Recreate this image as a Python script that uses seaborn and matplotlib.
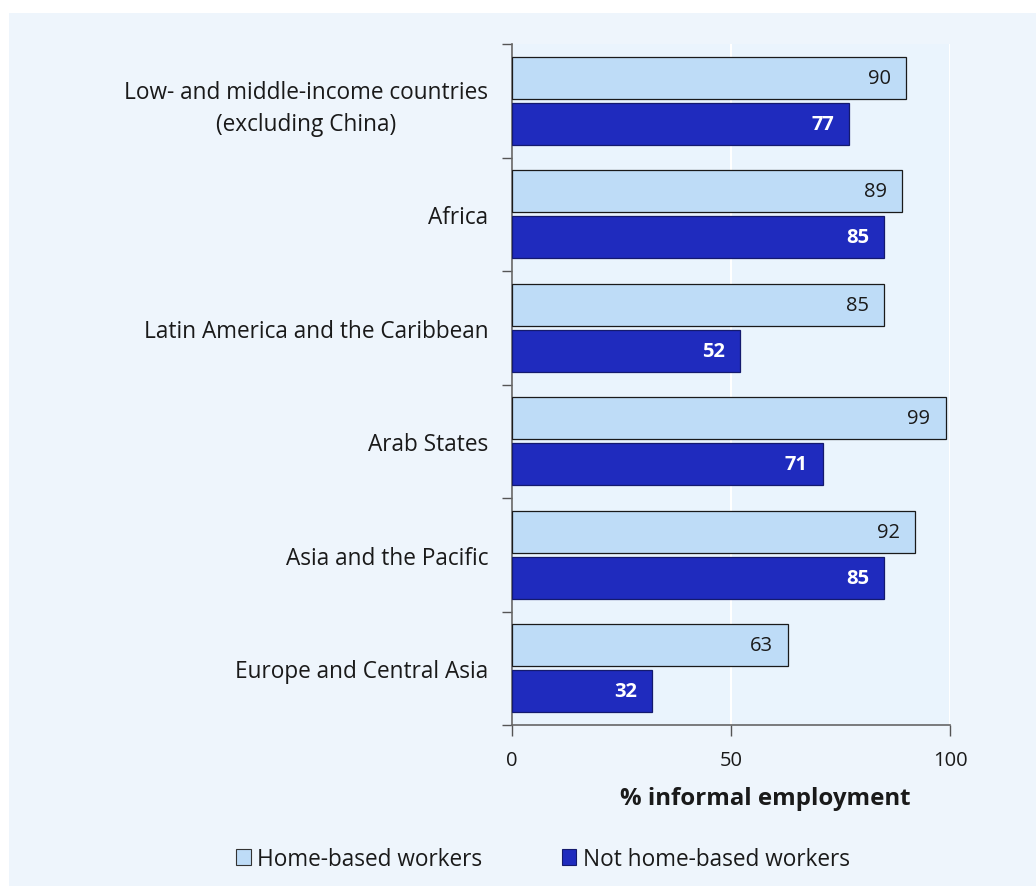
import matplotlib
matplotlib.use("Agg")
import matplotlib.pyplot as plt
import matplotlib.patches as mpatches
from matplotlib.ticker import FixedLocator, NullFormatter
import seaborn as sns
import pandas as pd

regions = [
    "Low- and middle-income countries\n(excluding China)",
    "Africa",
    "Latin America and the Caribbean",
    "Arab States",
    "Asia and the Pacific",
    "Europe and Central Asia",
]
home_based = [90, 89, 85, 99, 92, 63]
not_home_based = [77, 85, 52, 71, 85, 32]
series_names = ["Home-based workers", "Not home-based workers"]
x_ticks = [0, 50, 100]
x_label = "% informal employment"

light_blue = "#BEDCF7"
dark_blue = "#1F2BBE"
panel_bg = "#EEF5FC"
axes_bg = "#EAF4FD"

df = pd.DataFrame({
    "region": regions * 2,
    "value": home_based + not_home_based,
    "series": [series_names[0]] * len(regions) + [series_names[1]] * len(regions),
})

sns.set_theme(style="white")
plt.rcParams["font.family"] = ["Open Sans", "DejaVu Sans"]

fig = plt.figure(figsize=(10.36, 8.87), dpi=100, facecolor="white")
# shaded panel behind the chart
fig.patches.append(mpatches.Rectangle((9 / 1036, 0), 1, 1 - 14 / 887,
                                      transform=fig.transFigure,
                                      facecolor=panel_bg, edgecolor="none", zorder=-10))

ax = fig.add_axes([512 / 1036, 1 - 726 / 887, 438 / 1036, 681 / 887])
ax.set_facecolor(axes_bg)

sns.barplot(data=df, y="region", x="value", hue="series", orient="h",
            palette=[light_blue, dark_blue], saturation=1, width=0.81, gap=0.08,
            ax=ax, legend=False, zorder=3)

for bar, series_idx in zip(ax.patches, [0] * len(regions) + [1] * len(regions)):
    bar.set_edgecolor("#1a1a1a" if series_idx == 0 else "#141a6e")
    bar.set_linewidth(0.9)

# value labels inside the bar ends
for container, color, weight in zip(ax.containers, ["#1a1a1a", "white"], ["normal", "bold"]):
    texts = ax.bar_label(container, labels=[f"{v:.0f}" for v in container.datavalues],
                         padding=-11, color=color, fontweight=weight, fontsize=14.5,
                         label_type="edge", zorder=5)
    for t in texts:
        t.set_horizontalalignment("right")

ax.set_xlim(0, 100)
ax.set_ylim(len(regions) - 0.5, -0.5)
ax.set_xticks(x_ticks)
ax.set_xticklabels([str(v) for v in x_ticks], fontsize=14.5)
ax.xaxis.grid(True, color="white", linewidth=1.5, zorder=0)
ax.set_axisbelow(True)

# category labels, ticks at category boundaries
ax.set_ylabel("")
ax.tick_params(axis="y", which="major", length=0, pad=17, labelsize=16.3, labelcolor="#1a1a1a")
for lbl in ax.get_yticklabels():
    lbl.set_multialignment("center")
    lbl.set_linespacing(1.45)
ax.yaxis.set_minor_locator(FixedLocator([i - 0.5 for i in range(len(regions) + 1)]))
ax.yaxis.set_minor_formatter(NullFormatter())
ax.tick_params(axis="y", which="minor", left=True, length=7, width=1, color="#555555")
ax.tick_params(axis="x", which="major", bottom=True, length=8, width=1, color="#555555",
               pad=10, labelcolor="#1a1a1a")

for side in ["top", "right"]:
    ax.spines[side].set_visible(False)
for side in ["left", "bottom"]:
    ax.spines[side].set_color("#666666")
    ax.spines[side].set_linewidth(1.2)

ax.set_xlabel(x_label, fontsize=17.3, fontweight="bold", color="#1a1a1a")
ax.xaxis.set_label_coords(0.578, -0.09)

handles = [mpatches.Patch(facecolor=light_blue, edgecolor="#333333", linewidth=0.8),
           mpatches.Patch(facecolor=dark_blue, edgecolor="#141a6e", linewidth=0.8)]
leg = fig.legend(handles, series_names, loc="center", bbox_to_anchor=(543 / 1036, 1 - 860 / 887),
                 ncol=2, frameon=False, fontsize=16.3, handlelength=0.65, handleheight=0.65,
                 handletextpad=0.3, columnspacing=3.5)
for t in leg.get_texts():
    t.set_color("#1a1a1a")

fig.savefig("out.png", dpi=100, facecolor="white")
